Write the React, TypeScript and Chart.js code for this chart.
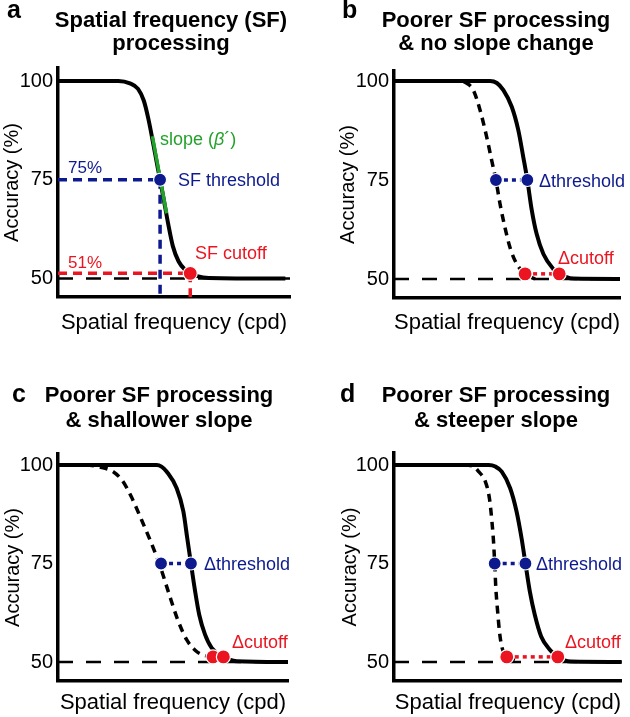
import React, { useEffect, useRef } from "react";
import { Chart, registerables } from "chart.js";

Chart.register(...registerables);

const FONT = '"Liberation Sans", Arial, Helvetica, sans-serif';
const BLACK = "#000000";
const BLUE = "#0c1a8e";
const RED = "#ea1520";
const GREEN = "#23a22b";

// ---- shared axis content ----
const yTicks = [50, 75, 100];
const yAxisTitle = "Accuracy (%)";
const xAxisTitle = "Spatial frequency (cpd)";
const chanceLevel = 50;
const thresholdLevel = 75;
const cutoffLevel = 51.3;

// ---- panel a ----
const aTitle = ["Spatial frequency (SF)", "processing"];
const aSolidX = [0, 26, 31, 34.5, 37, 39, 41, 43, 44, 45.5, 47.5, 49.5, 52, 55, 57, 60, 65, 98];
const aSolidY = [100, 100, 99.4, 98, 95, 90.3, 84.3, 78, 75, 70.3, 63.8, 58.2, 54.3, 52.1, 51.3, 50.6, 50.15, 50];
const aThresholdX = 44;
const aCutoffX = 57;
const aSlopeX = [40.7, 46.8];
const aSlopeY = [86, 66.5];

// ---- panel b ----
const bTitle = ["Poorer SF processing", "& no slope change"];
const bSolidX = [0, 42.5, 45.5, 48.4, 52.1, 55, 57.2, 59, 60.9, 63.1, 66.1, 70.5, 73.1, 79.3, 100];
const bSolidY = [100, 100, 99.5, 97.7, 93.5, 87.6, 80.8, 75, 67.6, 61.4, 56.3, 52.5, 51.3, 50.1, 50];
const bDashedX = [0, 28, 32.2, 35.1, 38.1, 41, 43.2, 45.1, 46.9, 49.1, 51.3, 54.3, 58, 62.4];
const bDashedY = [100, 100, 99.4, 97.7, 92.6, 85.9, 80, 75, 69, 63, 58, 53.8, 51.3, 50];
const bThresholdX = [45.1, 59];
const bCutoffX = [58, 73.1];

// ---- panel c ----
const cTitle = ["Poorer SF processing", "& shallower slope"];
const cSolidX = [0, 42.9, 45, 47.3, 51.6, 54.5, 56.2, 57.8, 59.6, 61.4, 63.9, 66.8, 71.9, 77.7, 100];
const cSolidY = [100, 100, 99.6, 98.3, 94.1, 88.2, 81.4, 75, 68, 62, 57, 53.6, 51.3, 50.2, 50];
const cDashedX = [0, 12, 18, 24, 28, 32, 36, 40, 44, 48, 52, 56, 60, 64, 67.4, 70];
const cDashedY = [100, 100, 99.5, 98.3, 96, 91.8, 86.5, 81, 75, 67.8, 60.8, 55.6, 52.8, 51.6, 51.3, 50.8];
const cThresholdX = [44.8, 57.8];
const cCutoffX = [67.4, 71.9];

// ---- panel d ----
const dTitle = ["Poorer SF processing", "& steeper slope"];
const dSolidX = [0, 41.6, 44.5, 47.3, 51, 53.8, 56, 57.7, 59.6, 61.8, 64.6, 68.3, 71.9, 77.6, 100];
const dSolidY = [100, 100, 99.6, 98.3, 94.1, 88.2, 81.4, 75, 68, 62, 56.5, 53.2, 51.3, 50.1, 50];
const dDashedX = [0, 30, 34.3, 37.2, 40.1, 41.9, 43, 43.7, 44.2, 44.7, 45.5, 46.3, 47.3, 49.5, 53];
const dDashedY = [100, 100, 99.8, 98.3, 95.8, 91.5, 85.6, 80.5, 75, 68.8, 62.8, 57.7, 53.9, 51.3, 50.4];
const dThresholdX = [44.2, 57.7];
const dCutoffX = [49.5, 71.9];

type Pt = { x: number; y: number };
const pts = (xs: number[], ys: number[]): Pt[] => xs.map((x, i) => ({ x, y: ys[i] }));
const level = (xs: number[], y: number): Pt[] => xs.map((x) => ({ x, y }));

const curve = (data: Pt[], dashed: boolean) => ({
  data,
  borderColor: BLACK,
  borderWidth: dashed ? 3.5 : 4,
  borderDash: dashed ? [8, 6] : [],
  pointRadius: 0,
  cubicInterpolationMode: "monotone",
  fill: false,
});
const chance = () => ({
  data: level([0, 100], chanceLevel),
  borderColor: BLACK,
  borderWidth: 2.6,
  borderDash: [15, 13],
  pointRadius: 0,
  fill: false,
});
const dots = (data: Pt[], color: string, r: number) => ({
  data,
  showLine: false,
  pointRadius: r,
  pointHoverRadius: r,
  pointBackgroundColor: color,
  pointBorderColor: "#ffffff",
  pointBorderWidth: 1.2,
});
const segment = (data: Pt[], color: string, width: number, dash: number[]) => ({
  data,
  borderColor: color,
  borderWidth: width,
  borderDash: dash,
  pointRadius: 0,
  fill: false,
});

type Label = { parts: { t: string; italic?: boolean }[]; x: number; y: number; color: string; size: number };
type PanelCfg = {
  left: number; top: number; width: number; height: number;
  plot: { left: number; top: number; right: number; bottom: number; p100: number; p50: number };
  letter: string; letterX: number; letterBase: number;
  title: string[]; titleX: number; titleBase: number[];
  yTitlePad: number; xTitlePad: number;
  datasets: any[];
  labels: Label[];
};

const lab = (t: string, x: number, y: number, color: string, size = 18): Label => ({ parts: [{ t }], x, y, color, size });

const panels: PanelCfg[] = [
  {
    left: 0, top: 0, width: 315, height: 340,
    plot: { left: 58, top: 68, right: 290, bottom: 297, p100: 81, p50: 278.5 },
    letter: "a", letterX: 7, letterBase: 18,
    title: aTitle, titleX: 171, titleBase: [27, 50],
    yTitlePad: 0.5, xTitlePad: 3.5,
    datasets: [
      dots([{ x: aCutoffX, y: cutoffLevel }], RED, 7),
      dots([{ x: aThresholdX, y: thresholdLevel }], BLUE, 6.5),
      segment(pts(aSlopeX, aSlopeY), GREEN, 3.5, []),
      curve(pts(aSolidX, aSolidY), false),
      segment([{ x: 0, y: thresholdLevel }, { x: aThresholdX, y: thresholdLevel }], BLUE, 3.5, [9, 6]),
      segment([{ x: aThresholdX, y: thresholdLevel }, { x: aThresholdX, y: 40 }], BLUE, 3.5, [9, 6]),
      segment([{ x: 0, y: cutoffLevel }, { x: aCutoffX, y: cutoffLevel }], RED, 3.5, [9, 6]),
      segment([{ x: aCutoffX, y: cutoffLevel }, { x: aCutoffX, y: 40 }], RED, 3.5, [9, 6]),
      chance(),
    ],
    labels: [
      { parts: [{ t: "slope (" }, { t: "β", italic: true }, { t: "´)" }], x: 160, y: 140, color: GREEN, size: 18 },
      lab("75%", 68, 168, BLUE, 17),
      lab("SF threshold", 178, 181, BLUE),
      lab("51%", 68, 263, RED, 17),
      lab("SF cutoff", 195, 254, RED),
    ],
  },
  {
    left: 315, top: 0, width: 315, height: 340,
    plot: { left: 79, top: 71, right: 305, bottom: 298, p100: 81, p50: 279 },
    letter: "b", letterX: 27, letterBase: 18,
    title: bTitle, titleX: 181, titleBase: [27, 50],
    yTitlePad: 21.5, xTitlePad: 3.5,
    datasets: [
      dots(level([bCutoffX[1]], cutoffLevel), RED, 7),
      dots(level([bCutoffX[0]], cutoffLevel), RED, 7),
      dots(level(bThresholdX, thresholdLevel), BLUE, 6.5),
      segment(level(bCutoffX, cutoffLevel), RED, 3.5, [4, 4]),
      segment(level(bThresholdX, thresholdLevel), BLUE, 3.5, [4, 4]),
      curve(pts(bSolidX, bSolidY), false),
      curve(pts(bDashedX, bDashedY), true),
      chance(),
    ],
    labels: [lab("Δthreshold", 224, 182, BLUE), lab("Δcutoff", 243, 259, RED)],
  },
  {
    left: 0, top: 360, width: 315, height: 357,
    plot: { left: 58, top: 94, right: 288, bottom: 321, p100: 105, p50: 302 },
    letter: "c", letterX: 12, letterBase: 42,
    title: cTitle, titleX: 159, titleBase: [42, 67],
    yTitlePad: 1.5, xTitlePad: 1.0,
    datasets: [
      dots(level([cCutoffX[1]], cutoffLevel), RED, 7),
      dots(level([cCutoffX[0]], cutoffLevel), RED, 7),
      dots(level(cThresholdX, thresholdLevel), BLUE, 6.5),
      segment(level(cCutoffX, cutoffLevel), RED, 3.5, [4, 4]),
      segment(level(cThresholdX, thresholdLevel), BLUE, 3.5, [4, 4]),
      curve(pts(cSolidX, cSolidY), false),
      curve(pts(cDashedX, cDashedY), true),
      chance(),
    ],
    labels: [lab("Δthreshold", 204, 205, BLUE), lab("Δcutoff", 232, 283, RED)],
  },
  {
    left: 315, top: 360, width: 315, height: 357,
    plot: { left: 79, top: 93, right: 310, bottom: 321, p100: 105, p50: 302 },
    letter: "d", letterX: 25, letterBase: 42,
    title: dTitle, titleX: 181, titleBase: [42, 67],
    yTitlePad: 23, xTitlePad: 1.0,
    datasets: [
      dots(level([dCutoffX[1]], cutoffLevel), RED, 7),
      dots(level([dCutoffX[0]], cutoffLevel), RED, 7),
      dots(level(dThresholdX, thresholdLevel), BLUE, 6.5),
      segment(level(dCutoffX, cutoffLevel), RED, 3.5, [4, 4]),
      segment(level(dThresholdX, thresholdLevel), BLUE, 3.5, [4, 4]),
      curve(pts(dSolidX, dSolidY), false),
      curve(pts(dDashedX, dDashedY), true),
      chance(),
    ],
    labels: [lab("Δthreshold", 221, 205, BLUE), lab("Δcutoff", 250, 283, RED)],
  },
];

function Panel({ cfg }: { cfg: PanelCfg }) {
  const ref = useRef<HTMLCanvasElement | null>(null);
  useEffect(() => {
    if (!ref.current) return;
    const p = cfg.plot;
    const per = 50 / (p.p50 - p.p100);
    const yMax = 100 + (p.p100 - p.top) * per;
    const yMin = 50 - (p.bottom - p.p50) * per;

    const textPlugin = {
      id: "panelText",
      afterDraw(chart: any) {
        const ctx = chart.ctx as CanvasRenderingContext2D;
        ctx.save();
        ctx.fillStyle = BLACK;
        ctx.textBaseline = "alphabetic";
        ctx.textAlign = "left";
        ctx.font = `bold 25px ${FONT}`;
        ctx.fillText(cfg.letter, cfg.letterX, cfg.letterBase);
        ctx.textAlign = "center";
        ctx.font = `bold 22px ${FONT}`;
        cfg.title.forEach((line, i) => ctx.fillText(line, cfg.titleX, cfg.titleBase[i]));
        ctx.textAlign = "left";
        ctx.textBaseline = "middle";
        for (const l of cfg.labels) {
          ctx.fillStyle = l.color;
          let x = l.x;
          for (const part of l.parts) {
            ctx.font = `${part.italic ? "italic " : ""}${l.size}px ${FONT}`;
            ctx.fillText(part.t, x, l.y);
            x += ctx.measureText(part.t).width;
          }
        }
        ctx.restore();
      },
    };

    const chart = new Chart(ref.current, {
      type: "line",
      data: { datasets: cfg.datasets as any },
      options: {
        responsive: false,
        animation: false,
        events: [],
        layout: { padding: { top: p.top, right: cfg.width - p.right, left: 0, bottom: 0 } },
        plugins: { legend: { display: false }, tooltip: { enabled: false }, title: { display: false } },
        scales: {
          x: {
            type: "linear",
            min: 0,
            max: 100,
            bounds: "data",
            grid: { display: false, drawTicks: false },
            border: { display: true, color: BLACK, width: 3.5 },
            ticks: { display: false },
            title: {
              display: true,
              text: xAxisTitle,
              color: BLACK,
              font: { family: FONT, size: 22 },
              padding: { top: 0, bottom: cfg.xTitlePad },
            },
            afterFit: (s: any) => {
              s.height = cfg.height - p.bottom;
            },
          },
          y: {
            type: "linear",
            min: yMin,
            max: yMax,
            bounds: "data",
            grid: { display: false, drawTicks: false },
            border: { display: true, color: BLACK, width: 3.5 },
            ticks: { color: BLACK, font: { family: FONT, size: 20 }, padding: 5, autoSkip: false, maxRotation: 0 },
            afterBuildTicks: (s: any) => {
              s.ticks = yTicks.map((v) => ({ value: v }));
            },
            title: {
              display: true,
              text: yAxisTitle,
              color: BLACK,
              font: { family: FONT, size: 20 },
              padding: { top: cfg.yTitlePad, bottom: 0 },
            },
            afterFit: (s: any) => {
              s.width = p.left;
            },
          },
        },
      } as any,
      plugins: [textPlugin],
    });
    return () => chart.destroy();
  }, [cfg]);
  return (
    <canvas
      ref={ref}
      width={cfg.width}
      height={cfg.height}
      style={{ position: "absolute", left: cfg.left, top: cfg.top, width: cfg.width, height: cfg.height }}
    />
  );
}

export default function App() {
  return (
    <div style={{ position: "absolute", left: 0, top: 0, width: 630, height: 717, background: "#ffffff" }}>
      {panels.map((cfg, i) => (
        <Panel key={i} cfg={cfg} />
      ))}
    </div>
  );
}
